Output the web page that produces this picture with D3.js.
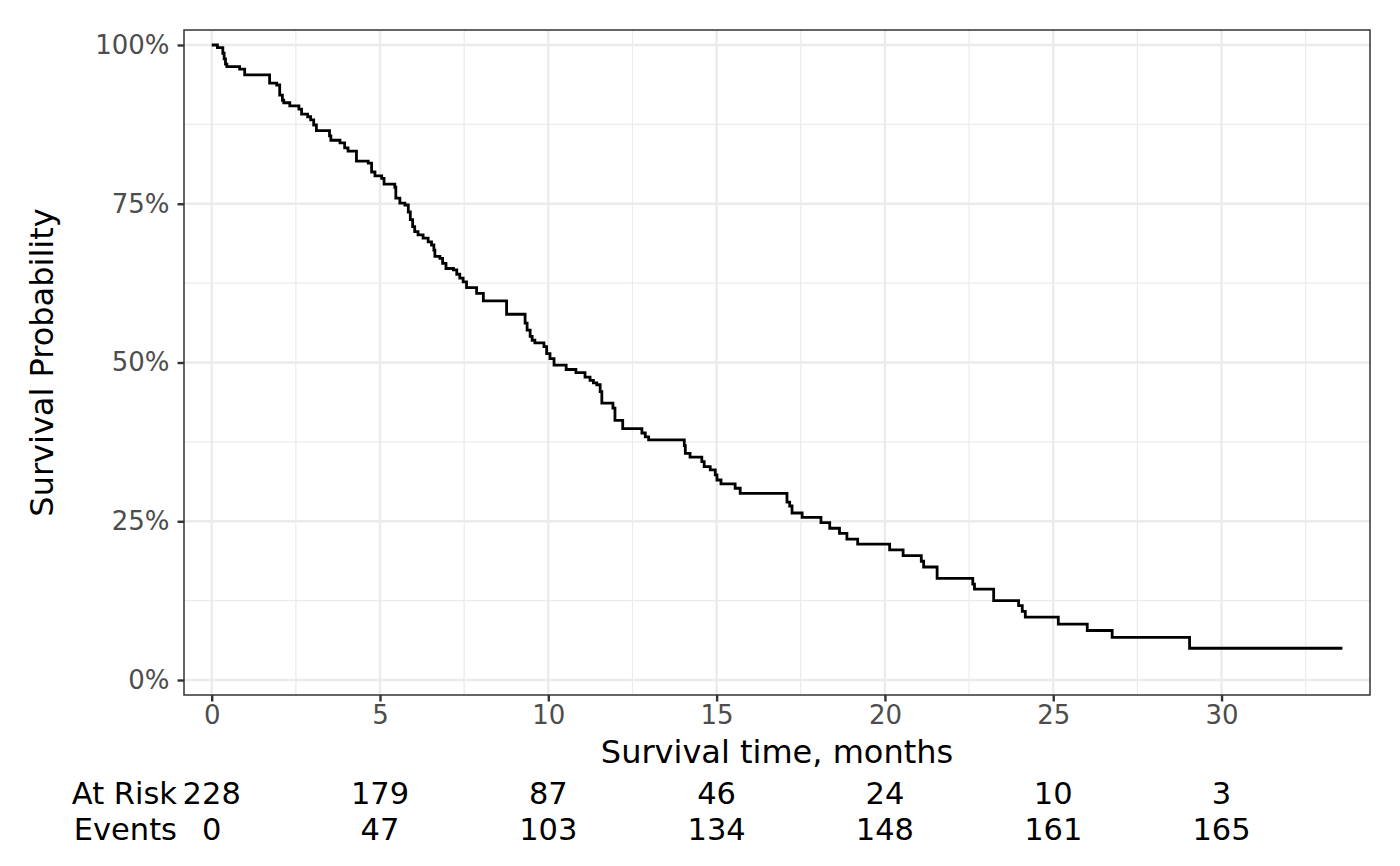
<!DOCTYPE html>
<html>
<head>
<meta charset="utf-8">
<script src="https://cdn.jsdelivr.net/npm/d3@7"></script>
<style>
  html, body { margin: 0; padding: 0; background: #fff; }
  svg { display: block; }
  text { font-family: "DejaVu Sans", sans-serif; }
</style>
</head>
<body>
<svg id="chart" width="1400" height="866"></svg>
<script>
// ---- data ----
const stepTimes = [0, 0.17, 0.33, 0.37, 0.41, 0.45, 0.83, 0.98, 1.72, 1.93, 2.02, 2.10, 2.14, 2.32, 2.59, 2.67, 2.85, 2.94, 3.03, 3.11,
  3.50, 3.54, 3.81, 3.95, 4.05, 4.30, 4.65, 4.75, 4.85, 5.05, 5.12, 5.44, 5.47, 5.59, 5.74, 5.84, 5.90, 5.97, 6.03, 6.13,
  6.28, 6.43, 6.53, 6.60, 6.63, 6.78, 6.86, 6.96, 7.18, 7.28, 7.37, 7.47, 7.57, 7.87, 8.07, 8.76, 9.31, 9.37, 9.46, 9.52,
  9.60, 9.87, 9.95, 10.05, 10.17, 10.53, 10.82, 11.09, 11.24, 11.34, 11.44, 11.54, 11.59, 11.92, 11.98, 12.21, 12.78, 12.88, 12.98, 14.04,
  14.07, 14.21, 14.56, 14.63, 14.81, 14.96, 15.01, 15.13, 15.55, 15.70, 17.09, 17.17, 17.24, 17.54, 18.10, 18.36, 18.65, 18.87, 19.19, 20.14,
  20.54, 21.08, 21.15, 21.55, 22.61, 22.66, 23.23, 23.97, 24.08, 24.17, 25.15, 26.01, 26.75, 29.05, 33.59];
const stepSurv = [1.000, 0.996, 0.987, 0.978, 0.970, 0.966, 0.962, 0.953, 0.940, 0.937, 0.921, 0.913, 0.909, 0.904, 0.899, 0.891, 0.887, 0.882, 0.874, 0.865,
  0.857, 0.850, 0.846, 0.838, 0.833, 0.817, 0.814, 0.800, 0.794, 0.790, 0.781, 0.776, 0.759, 0.751, 0.748, 0.737, 0.725, 0.714, 0.706, 0.701,
  0.696, 0.690, 0.685, 0.677, 0.667, 0.664, 0.656, 0.648, 0.646, 0.639, 0.633, 0.627, 0.618, 0.609, 0.597, 0.576, 0.562, 0.551, 0.541, 0.535,
  0.531, 0.525, 0.514, 0.506, 0.496, 0.489, 0.484, 0.477, 0.472, 0.468, 0.465, 0.454, 0.436, 0.428, 0.409, 0.396, 0.389, 0.383, 0.378, 0.369,
  0.357, 0.351, 0.344, 0.336, 0.331, 0.323, 0.315, 0.309, 0.302, 0.294, 0.280, 0.274, 0.263, 0.256, 0.248, 0.239, 0.231, 0.222, 0.214, 0.205,
  0.196, 0.187, 0.178, 0.160, 0.151, 0.143, 0.125, 0.117, 0.108, 0.099, 0.088, 0.078, 0.067, 0.050, 0.050];

const xTicks = [0, 5, 10, 15, 20, 25, 30];
const xMinor = [2.5, 7.5, 12.5, 17.5, 22.5, 27.5, 32.5];
const yTicks = [0, 0.25, 0.5, 0.75, 1];
const yMinor = [0.125, 0.375, 0.625, 0.875];
const yTickLabels = ["0%", "25%", "50%", "75%", "100%"];

const riskTimes = [0, 5, 10, 15, 20, 25, 30];
const atRisk = [228, 179, 87, 46, 24, 10, 3];
const events = [0, 47, 103, 134, 148, 161, 165];
const riskRowLabels = ["At Risk", "Events"];

const xTitle = "Survival time, months";
const yTitle = "Survival Probability";

// ---- layout ----
const panel = { left: 184, right: 1370, top: 30, bottom: 695 };
const svg = d3.select("#chart");

const x = d3.scaleLinear().domain([-0.823, 34.41]).range([panel.left, panel.right]);
const y = d3.scaleLinear().domain([-0.0236, 1.0236]).range([panel.bottom, panel.top]);

// grid
const grid = svg.append("g");
grid.selectAll(".xminor").data(xMinor).join("line")
  .attr("x1", d => x(d)).attr("x2", d => x(d))
  .attr("y1", panel.top).attr("y2", panel.bottom)
  .attr("stroke", "#EBEBEB").attr("stroke-width", 1.2);
grid.selectAll(".yminor").data(yMinor).join("line")
  .attr("y1", d => y(d)).attr("y2", d => y(d))
  .attr("x1", panel.left).attr("x2", panel.right)
  .attr("stroke", "#EBEBEB").attr("stroke-width", 1.2);
grid.selectAll(".xmajor").data(xTicks).join("line")
  .attr("x1", d => x(d)).attr("x2", d => x(d))
  .attr("y1", panel.top).attr("y2", panel.bottom)
  .attr("stroke", "#EBEBEB").attr("stroke-width", 2.4);
grid.selectAll(".ymajor").data(yTicks).join("line")
  .attr("y1", d => y(d)).attr("y2", d => y(d))
  .attr("x1", panel.left).attr("x2", panel.right)
  .attr("stroke", "#EBEBEB").attr("stroke-width", 2.4);

// curve
const pts = stepTimes.map((t, i) => [t, stepSurv[i]]);
const line = d3.line().x(d => x(d[0])).y(d => y(d[1])).curve(d3.curveStepAfter);
svg.append("path").datum(pts)
  .attr("d", line)
  .attr("fill", "none").attr("stroke", "#000").attr("stroke-width", 2.8);

// panel border
svg.append("rect")
  .attr("x", panel.left).attr("y", panel.top)
  .attr("width", panel.right - panel.left).attr("height", panel.bottom - panel.top)
  .attr("fill", "none").attr("stroke", "#333333").attr("stroke-width", 1.5);

// axes
const xAxis = d3.axisBottom(x).tickValues(xTicks).tickSize(6.5).tickPadding(4).tickFormat(d3.format("d"));
const gx = svg.append("g").attr("transform", `translate(0,${panel.bottom})`).call(xAxis);
gx.select(".domain").remove();
gx.selectAll(".tick line").attr("stroke", "#333333").attr("stroke-width", 2.4);
gx.selectAll(".tick text").attr("fill", "#4D4D4D").attr("font-size", 26)
  .attr("font-family", "DejaVu Sans").attr("dy", "0.71em");

const yAxis = d3.axisLeft(y).tickValues(yTicks).tickSize(6.5).tickPadding(8)
  .tickFormat((d, i) => yTickLabels[i]);
const gy = svg.append("g").attr("transform", `translate(${panel.left},0)`).call(yAxis);
gy.select(".domain").remove();
gy.selectAll(".tick line").attr("stroke", "#333333").attr("stroke-width", 2.4);
gy.selectAll(".tick text").attr("fill", "#4D4D4D").attr("font-size", 26)
  .attr("font-family", "DejaVu Sans");

// axis titles
svg.append("text")
  .attr("x", (panel.left + panel.right) / 2).attr("y", 763)
  .attr("text-anchor", "middle").attr("font-size", 32).attr("fill", "#000")
  .text(xTitle);
svg.append("text")
  .attr("transform", `translate(53,${(panel.top + panel.bottom) / 2}) rotate(-90)`)
  .attr("text-anchor", "middle").attr("font-size", 32).attr("fill", "#000")
  .text(yTitle);

// risk table
const rowY = [804, 840];
const rows = [atRisk, events];
rows.forEach((vals, r) => {
  svg.append("text")
    .attr("x", 177).attr("y", rowY[r])
    .attr("text-anchor", "end").attr("font-size", 30.5).attr("fill", "#000")
    .text(riskRowLabels[r]);
  svg.append("g").selectAll("text").data(vals).join("text")
    .attr("x", (d, i) => x(riskTimes[i])).attr("y", rowY[r])
    .attr("text-anchor", "middle").attr("font-size", 30.5).attr("fill", "#000")
    .text(d => d);
});
</script>
</body>
</html>
